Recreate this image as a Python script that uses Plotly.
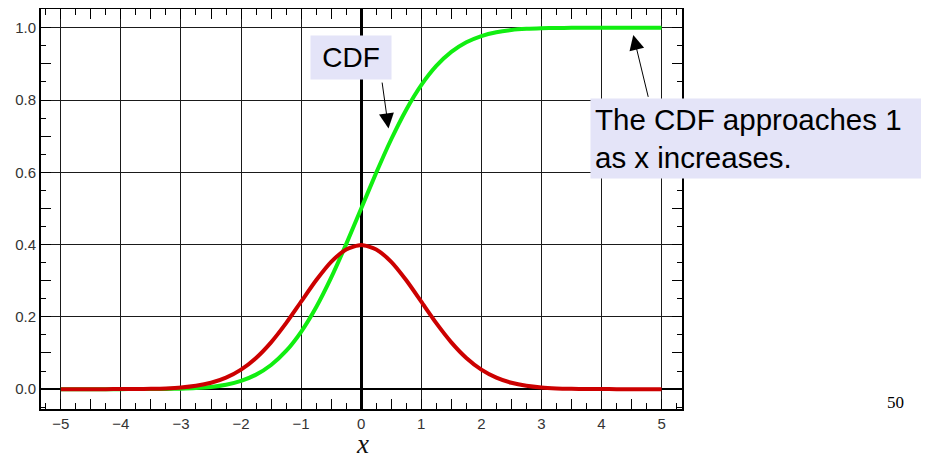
import plotly.graph_objects as go

# x positions (step 0.25)
x_vals = [-5.0, -4.75, -4.5, -4.25, -4.0, -3.75, -3.5, -3.25, -3.0, -2.75, -2.5, -2.25,
          -2.0, -1.75, -1.5, -1.25, -1.0, -0.75, -0.5, -0.25, 0.0, 0.25, 0.5, 0.75,
          1.0, 1.25, 1.5, 1.75, 2.0, 2.25, 2.5, 2.75, 3.0, 3.25, 3.5, 3.75, 4.0,
          4.25, 4.5, 4.75, 5.0]

# red curve (PDF) values
pdf_vals = [0.0, 0.0, 0.0, 0.0, 0.0001, 0.0004, 0.0009, 0.0020, 0.0044, 0.0091, 0.0175, 0.0317,
            0.0540, 0.0863, 0.1295, 0.1826, 0.2420, 0.3011, 0.3521, 0.3867, 0.3989, 0.3867, 0.3521, 0.3011,
            0.2420, 0.1826, 0.1295, 0.0863, 0.0540, 0.0317, 0.0175, 0.0091, 0.0044, 0.0020, 0.0009, 0.0004, 0.0001,
            0.0, 0.0, 0.0, 0.0]

# green curve (CDF) values
cdf_vals = [0.0, 0.0, 0.0, 0.0, 0.0, 0.0001, 0.0002, 0.0006, 0.0013, 0.0030, 0.0062, 0.0122,
            0.0228, 0.0401, 0.0668, 0.1056, 0.1587, 0.2266, 0.3085, 0.4013, 0.5, 0.5987, 0.6915, 0.7734,
            0.8413, 0.8944, 0.9332, 0.9599, 0.9772, 0.9878, 0.9938, 0.9970, 0.9987, 0.9994, 0.9998, 0.9999, 1.0,
            1.0, 1.0, 1.0, 1.0]

x_major_ticks = [-5, -4, -3, -2, -1, 0, 1, 2, 3, 4, 5]
x_half_ticks = [-4.5, -3.5, -2.5, -1.5, -0.5, 0.5, 1.5, 2.5, 3.5, 4.5]
y_major_ticks = [0.0, 0.2, 0.4, 0.6, 0.8, 1.0]
y_tenth_ticks = [0.1, 0.3, 0.5, 0.7, 0.9]

XR = [-5.33, 5.34]
YR = [-0.055, 1.052]

# the page adds an 8px body margin, so the figure is laid out 8px smaller
OFF = 8
W, H = 929 - OFF, 455 - OFF
ML, MT = 41 - OFF, 9 - OFF
MR = W - (682 - OFF)
MB = H - (409 - OFF)
PW, PH = W - ML - MR, H - MT - MB

LAV = "#e4e4f8"
TICKFONT = dict(family="Liberation Sans, Arial, sans-serif", size=15, color="#333333")

fig = go.Figure()
fig.add_trace(go.Scatter(x=x_vals, y=cdf_vals, mode="lines", name="CDF",
                         line=dict(color="#11ee11", width=4, shape="spline", smoothing=0.6),
                         hoverinfo="skip"))
fig.add_trace(go.Scatter(x=x_vals, y=pdf_vals, mode="lines", name="PDF",
                         line=dict(color="#cc0000", width=4, shape="spline", smoothing=0.6),
                         hoverinfo="skip"))
# empty trace to realise the overlay axes used for the longer half-step ticks
fig.add_trace(go.Scatter(x=[], y=[], xaxis="x2", yaxis="y2", showlegend=False, hoverinfo="skip"))

fig.update_layout(
    width=W, height=H,
    margin=dict(l=ML, r=MR, t=MT, b=MB, autoexpand=False),
    paper_bgcolor="white", plot_bgcolor="white",
    showlegend=False,
    xaxis=dict(range=XR, tickvals=x_major_ticks,
               ticktext=[str(v) if v >= 0 else "\u2212" + str(-v) for v in x_major_ticks],
               automargin=False,
               showgrid=True, gridcolor="#1a1a1a", gridwidth=1,
               zeroline=True, zerolinecolor="black", zerolinewidth=2.5,
               showline=True, linecolor="black", linewidth=2, mirror="allticks",
               ticks="inside", ticklen=10, tickcolor="black", tickwidth=1,
               tickfont=TICKFONT,
               minor=dict(dtick=0.25, tick0=0, ticks="inside", ticklen=6, tickcolor="black", tickwidth=1, showgrid=False)),
    yaxis=dict(range=YR, tickvals=y_major_ticks, tickformat=".1f", automargin=False,
               showgrid=True, gridcolor="#1a1a1a", gridwidth=1,
               zeroline=True, zerolinecolor="black", zerolinewidth=1.5,
               showline=True, linecolor="black", linewidth=2, mirror="allticks",
               ticks="inside", ticklen=10, tickcolor="black", tickwidth=1,
               tickfont=TICKFONT,
               minor=dict(dtick=0.05, tick0=0, ticks="inside", ticklen=5, tickcolor="black", tickwidth=1, showgrid=False)),
    xaxis2=dict(range=XR, overlaying="x", anchor="y2", tickvals=x_half_ticks, showticklabels=False,
                automargin=False,
                ticks="inside", ticklen=10, tickcolor="black", tickwidth=1,
                showgrid=False, zeroline=False, showline=True, linecolor="black", linewidth=2, mirror="allticks"),
    yaxis2=dict(range=YR, overlaying="y", anchor="x2", tickvals=y_tenth_ticks, showticklabels=False,
                automargin=False,
                ticks="inside", ticklen=10, tickcolor="black", tickwidth=1,
                showgrid=False, zeroline=False, showline=True, linecolor="black", linewidth=2, mirror="allticks"),
)

ANNFONT = dict(family="Liberation Sans, Arial, sans-serif", size=28, color="black")
ANNFONT2 = dict(family="Liberation Sans, Arial, sans-serif", size=29.5, color="black")

# x-axis title (placed as annotation so it can sit as low as in the original)
fig.add_annotation(x=0.02, y=(H - MB - (444 - OFF)) / PH, xref="x", yref="paper",
                   text="<i>x</i>", showarrow=False,
                   font=dict(family="Liberation Serif, Times New Roman, serif", size=27, color="#111111"),
                   xanchor="center", yanchor="middle")
# "CDF" label
fig.add_annotation(x=-0.171, y=0.917, xref="x", yref="y", text="CDF", showarrow=False,
                   font=ANNFONT, bgcolor=LAV, width=80, height=43, borderpad=0,
                   xanchor="center", yanchor="middle", align="center")
# arrow to the CDF curve
fig.add_annotation(x=0.455, y=0.7216, xref="x", yref="y", text="", showarrow=True,
                   ax=-6.6, ay=-47.3, arrowhead=2, arrowsize=3, arrowwidth=1, arrowcolor="black",
                   standoff=0)
# second label
fig.add_annotation(x=3.801, y=0.8046, xref="x", yref="y",
                   text="The CDF approaches 1<br>as x increases.", showarrow=False,
                   font=ANNFONT2, bgcolor=LAV, width=331, height=71, borderpad=4,
                   xanchor="left", yanchor="top", align="left")
fig.add_annotation(x=4.529, y=0.98, xref="x", yref="y", text="", showarrow=True,
                   ax=15.3, ay=63.3, arrowhead=2, arrowsize=3, arrowwidth=1, arrowcolor="black",
                   standoff=0)
# page number (paper coords relative to plot area)
fig.add_annotation(x=(895.7 - OFF - ML) / PW, y=(H - MB - (402.2 - OFF)) / PH, xref="paper", yref="paper",
                   text="50", showarrow=False,
                   font=dict(family="Liberation Serif, Times New Roman, serif", size=17, color="black"),
                   xanchor="center", yanchor="middle")

fig.write_html("out.html")
